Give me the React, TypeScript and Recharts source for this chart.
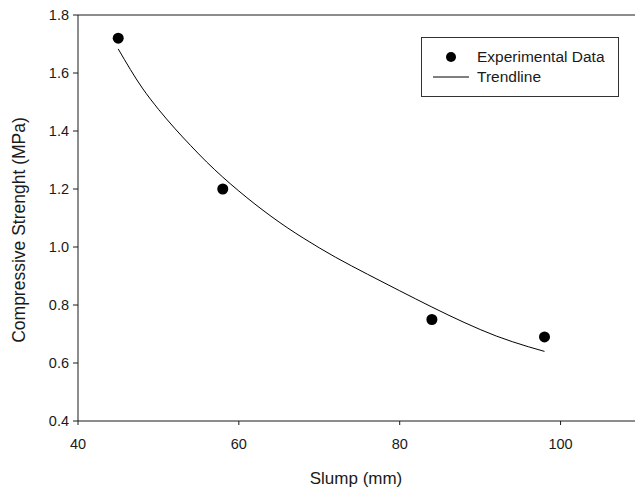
import {
  ComposedChart,
  Line,
  ReferenceLine,
  Scatter,
  XAxis,
  YAxis,
} from "recharts";

// experimental points: slump (mm) vs compressive strength (MPa)
const slump = [45, 58, 84, 98];
const strength = [1.72, 1.2, 0.75, 0.69];

// trendline
const trendSlump = [45, 48, 50, 52, 54, 56, 58, 60, 62, 64, 66, 68, 70, 72, 74, 76, 80, 84, 88, 92, 96, 98];
const trendStrength = [1.683, 1.548, 1.475, 1.41, 1.35, 1.293, 1.241, 1.193, 1.148, 1.106, 1.067, 1.031, 0.997, 0.965, 0.935, 0.906, 0.849, 0.793, 0.74, 0.693, 0.656, 0.64];

const xTicks = [40, 60, 80, 100];
const yTicks = [0.4, 0.6, 0.8, 1.0, 1.2, 1.4, 1.6, 1.8];

const expData = slump.map((x, i) => ({ x, y: strength[i] }));
const trendData = trendSlump.map((x, i) => ({ x, y: trendStrength[i] }));

const FONT = '"Liberation Sans", Arial, sans-serif';
const INK = "#1a1a1a";

function Dot({ cx, cy }: { cx?: number; cy?: number }) {
  if (cx === undefined || cy === undefined) return null;
  return <circle cx={cx} cy={cy} r={5.5} fill="#000" />;
}

function LegendBox() {
  return (
    <div
      style={{
        position: "absolute",
        left: 421,
        top: 37,
        width: 196,
        height: 58,
        border: "1px solid #333",
        background: "#fff",
        fontFamily: FONT,
        fontSize: 15.5,
        color: INK,
      }}
    >
      <svg width={60} height={58} style={{ position: "absolute", left: 0, top: 0 }}>
        <circle cx={29} cy={19} r={5} fill="#000" />
        <line x1={11} x2={47} y1={39} y2={39} stroke="#000" strokeWidth={1} />
      </svg>
      <div style={{ position: "absolute", left: 55, top: 10, lineHeight: "18px" }}>Experimental Data</div>
      <div style={{ position: "absolute", left: 55, top: 30, lineHeight: "18px" }}>Trendline</div>
    </div>
  );
}

export default function App() {
  return (
    <div
      style={{
        position: "absolute",
        left: 0,
        top: 0,
        width: 635,
        height: 489,
        overflow: "hidden",
        background: "#fff",
      }}
    >
      <ComposedChart
        width={645}
        height={489}
        margin={{ top: 15, right: 4, left: 0, bottom: 0 }}
      >
        <XAxis
          type="number"
          dataKey="x"
          domain={[40, 110]}
          ticks={xTicks}
          allowDataOverflow
          height={68}
          stroke={INK}
          tickSize={4}
          tickMargin={14}
          tick={{ fill: INK, fontSize: 14.5, fontFamily: FONT }}
        />
        <YAxis
          type="number"
          dataKey="y"
          domain={[0.4, 1.8]}
          ticks={yTicks}
          width={78}
          stroke={INK}
          tickSize={5}
          tickMargin={4}
          tickFormatter={(v) => Number(v).toFixed(1)}
          tick={{ fill: INK, fontSize: 14.5, fontFamily: FONT }}
        />
        <ReferenceLine y={1.8} stroke={INK} />
        <Line
          data={trendData}
          dataKey="y"
          type="monotone"
          stroke="#000"
          strokeWidth={1}
          dot={false}
          activeDot={false}
          isAnimationActive={false}
        />
        <Scatter data={expData} dataKey="y" fill="#000" shape={<Dot />} isAnimationActive={false} />
        <text
          x={356}
          y={484}
          textAnchor="middle"
          fontFamily={FONT}
          fontSize={17}
          fill={INK}
        >
          Slump (mm)
        </text>
        <text
          x={25}
          y={230}
          textAnchor="middle"
          transform="rotate(-90 25 230)"
          fontFamily={FONT}
          fontSize={17.5}
          fill={INK}
        >
          Compressive Strenght (MPa)
        </text>
      </ComposedChart>
      <LegendBox />
    </div>
  );
}
